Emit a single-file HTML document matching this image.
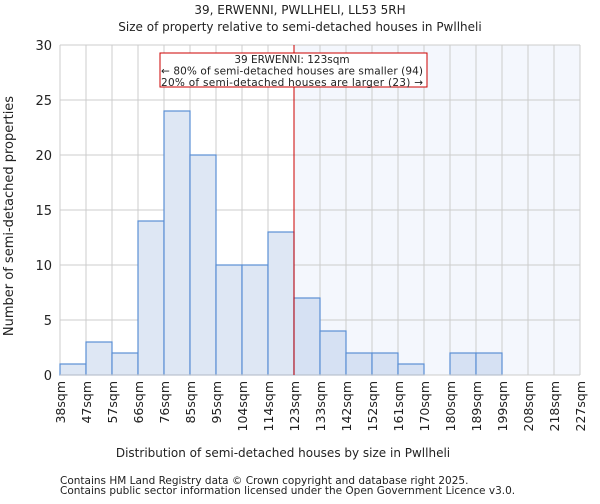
<!DOCTYPE html>
<html><head><meta charset="utf-8"><style>
body{margin:0;background:#fff;font-family:"DejaVu Sans","Liberation Sans",sans-serif;}
text{font-family:"DejaVu Sans","Liberation Sans",sans-serif;fill:#222;}
</style></head><body>
<svg id="chart" width="600" height="500">
<text x="300" y="14" text-anchor="middle" font-size="12">39, ERWENNI, PWLLHELI, LL53 5RH</text>
<text x="300" y="31" text-anchor="middle" font-size="12">Size of property relative to semi-detached houses in Pwllheli</text>
<g id="plot"></g>
<text x="283" y="457" text-anchor="middle" font-size="12">Distribution of semi-detached houses by size in Pwllheli</text>
<text transform="translate(13,216) rotate(-90)" text-anchor="middle" font-size="13" fill="#444">Number of semi-detached properties</text>
<text x="60" y="484" font-size="10.5" fill="#444">Contains HM Land Registry data © Crown copyright and database right 2025.</text>
<text x="60" y="494" font-size="10.5" fill="#444">Contains public sector information licensed under the Open Government Licence v3.0.</text>
</svg>
<script>
const categories=["38sqm","47sqm","57sqm","66sqm","76sqm","85sqm","95sqm","104sqm","114sqm","123sqm","133sqm","142sqm","152sqm","161sqm","170sqm","180sqm","189sqm","199sqm","208sqm","218sqm","227sqm"];
const counts=[1,3,2,14,24,20,10,10,13,7,4,2,2,1,0,2,2,0,0,0];
const yTicks=[0,5,10,15,20,25,30];
const markerIndex=9;
const L=60,R=580,T=45,B=375,yMax=30;
const bw=(R-L)/counts.length;
const xs=i=>L+i*bw, ys=v=>B-(v/yMax)*(B-T);
const g=document.getElementById('plot');const NS='http://www.w3.org/2000/svg';
function mk(t,a){const e=document.createElementNS(NS,t);for(const k in a)e.setAttribute(k,a[k]);g.appendChild(e);return e;}
let e=mk('rect',{x:xs(markerIndex),y:T,width:R-xs(markerIndex),height:B-T,fill:'#f4f7fd'});


yTicks.forEach(v=>{let l=mk('line',{x1:L,x2:R,y1:ys(v),y2:ys(v),stroke:'#ccc'});


let t=mk('text',{x:L-8,y:ys(v)+5,'text-anchor':'end','font-size':'13'});t.textContent=v;

});
categories.forEach((c,i)=>{let l=mk('line',{x1:xs(i),x2:xs(i),y1:T,y2:B,stroke:'#ccc'});


let t=mk('text',{transform:`translate(${xs(i)+5},${B+6}) rotate(-90)`,'text-anchor':'end','font-size':'12.5'});t.textContent=c;

});
counts.forEach((v,i)=>{if(!v)return;let r=mk('rect',{x:xs(i),y:ys(v),width:bw,height:B-ys(v),fill:i<markerIndex?'#dee7f4':'#d6e1f3',stroke:'#5b8fd4','stroke-width':1.2});

});
e=mk('line',{x1:L,x2:R,y1:B,y2:B,stroke:'#ccc'});


e=mk('line',{x1:xs(markerIndex),x2:xs(markerIndex),y1:T,y2:B,stroke:'#c00','stroke-width':1});


e=mk('rect',{x:160,y:53,width:267,height:34,fill:'#fff',stroke:'#c00'});


["39 ERWENNI: 123sqm","← 80% of semi-detached houses are smaller (94)","20% of semi-detached houses are larger (23) →"].forEach((s,k)=>{let t=mk('text',{x:292,y:63+k*11.5,'text-anchor':'middle','font-size':'10.5','textLength':k?262:0});
if(!k)t.removeAttribute('textLength');
t.textContent=s;

});
</script>
</body></html>
